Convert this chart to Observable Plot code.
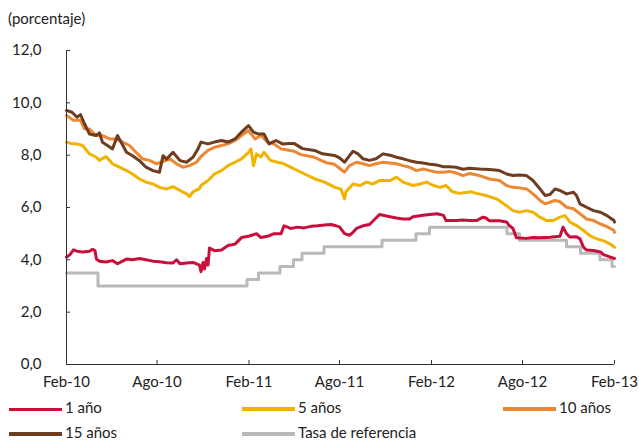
<!DOCTYPE html>
<html><head><meta charset="utf-8">
<script src="https://cdn.jsdelivr.net/npm/d3@7"></script>
<script src="https://cdn.jsdelivr.net/npm/@observablehq/plot@0.6"></script>
<style>
body{margin:0;background:#fff;}
#wrap{position:relative;width:639px;height:440px;font-family:Lato,sans-serif;color:#222;overflow:hidden;}
#chart{position:absolute;left:0;top:0;}
#title{position:absolute;left:8px;top:9px;font-size:15px;line-height:18px;}
.sw{position:absolute;width:53px;}
.lt{position:absolute;font-size:15px;line-height:18px;white-space:nowrap;}
</style></head>
<body><div id="wrap"><div id="chart"></div><div id="title">(porcentaje)</div><div id="legend"></div></div>
<script>
const xTickDates = ["2010-02-01","2010-08-01","2011-02-01","2011-08-01","2012-02-01","2012-08-01","2013-02-01"];
const xTickLabels = ["Feb-10","Ago-10","Feb-11","Ago-11","Feb-12","Ago-12","Feb-13"];
const yTicks = [0,2,4,6,8,10,12];
const seriesNames = ["1 año","5 años","10 años","15 años","Tasa de referencia"];

const unAno = [["2010-02-01",4.10],["2010-02-08",4.20],["2010-02-15",4.38],["2010-02-22",4.33],["2010-03-05",4.30],["2010-03-19",4.33],["2010-03-25",4.40],["2010-03-30",4.35],["2010-04-02",4.02],["2010-04-08",3.95],["2010-04-21",3.92],["2010-05-04",3.97],["2010-05-14",3.85],["2010-05-24",3.95],["2010-06-01",4.03],["2010-06-13",4.00],["2010-06-27",4.05],["2010-07-10",4.00],["2010-07-24",3.95],["2010-08-06",3.93],["2010-08-20",3.89],["2010-09-02",3.88],["2010-09-09",4.00],["2010-09-16",3.85],["2010-09-29",3.88],["2010-10-12",3.90],["2010-10-25",3.80],["2010-10-28",3.55],["2010-11-01",3.90],["2010-11-04",3.65],["2010-11-08",4.05],["2010-11-11",3.80],["2010-11-14",4.45],["2010-11-24",4.35],["2010-12-08",4.38],["2010-12-21",4.55],["2011-01-04",4.60],["2011-01-17",4.85],["2011-01-31",4.90],["2011-02-16",5.00],["2011-02-25",4.85],["2011-03-10",4.90],["2011-03-23",5.00],["2011-04-06",5.00],["2011-04-12",5.30],["2011-04-19",5.25],["2011-04-25",5.20],["2011-05-09",5.25],["2011-05-22",5.22],["2011-06-05",5.28],["2011-06-18",5.30],["2011-07-02",5.33],["2011-07-15",5.35],["2011-07-25",5.30],["2011-08-01",5.26],["2011-08-11",5.00],["2011-08-21",4.94],["2011-08-28",5.05],["2011-09-04",5.20],["2011-09-17",5.30],["2011-09-30",5.35],["2011-10-13",5.60],["2011-10-20",5.73],["2011-11-10",5.65],["2011-11-23",5.60],["2011-12-06",5.56],["2011-12-19",5.56],["2011-12-26",5.65],["2012-01-15",5.70],["2012-01-29",5.73],["2012-02-12",5.76],["2012-02-25",5.70],["2012-03-01",5.50],["2012-03-21",5.50],["2012-04-04",5.52],["2012-04-17",5.50],["2012-05-01",5.50],["2012-05-14",5.63],["2012-05-20",5.60],["2012-05-27",5.49],["2012-06-16",5.49],["2012-06-30",5.45],["2012-07-06",5.30],["2012-07-13",5.20],["2012-07-20",4.84],["2012-08-09",4.82],["2012-08-22",4.85],["2012-09-05",4.84],["2012-09-25",4.86],["2012-10-15",4.90],["2012-10-21",5.25],["2012-10-28",5.00],["2012-11-04",4.87],["2012-11-17",4.88],["2012-11-24",4.80],["2012-12-01",4.48],["2012-12-07",4.38],["2012-12-21",4.36],["2013-01-04",4.30],["2013-01-10",4.20],["2013-01-24",4.10],["2013-02-01",4.05]];

const cincoAnos = [["2010-02-01",8.50],["2010-02-10",8.45],["2010-02-22",8.43],["2010-03-05",8.37],["2010-03-19",8.05],["2010-04-01",7.93],["2010-04-08",7.80],["2010-04-21",7.95],["2010-05-04",7.67],["2010-05-18",7.54],["2010-06-01",7.41],["2010-06-13",7.28],["2010-06-27",7.09],["2010-07-10",6.97],["2010-07-24",6.90],["2010-08-06",6.77],["2010-08-20",6.71],["2010-09-02",6.80],["2010-09-16",6.65],["2010-09-29",6.52],["2010-10-05",6.42],["2010-10-12",6.60],["2010-10-25",6.72],["2010-10-28",6.84],["2010-11-11",7.03],["2010-11-24",7.28],["2010-12-08",7.41],["2010-12-21",7.60],["2011-01-04",7.73],["2011-01-17",7.86],["2011-01-31",8.11],["2011-02-05",8.24],["2011-02-10",7.60],["2011-02-16",8.05],["2011-02-25",7.93],["2011-03-03",8.11],["2011-03-16",7.80],["2011-03-30",7.73],["2011-04-12",7.67],["2011-04-25",7.54],["2011-05-02",7.48],["2011-05-22",7.29],["2011-06-12",7.10],["2011-07-02",6.97],["2011-07-22",6.78],["2011-08-04",6.70],["2011-08-11",6.33],["2011-08-14",6.60],["2011-08-28",6.90],["2011-09-11",6.84],["2011-09-24",6.97],["2011-10-07",6.90],["2011-10-20",7.03],["2011-11-10",7.03],["2011-11-23",7.16],["2011-12-06",6.97],["2011-12-26",6.84],["2012-01-09",6.90],["2012-01-22",6.97],["2012-02-05",6.84],["2012-02-18",6.77],["2012-03-01",6.84],["2012-03-14",6.60],["2012-03-28",6.54],["2012-04-20",6.60],["2012-05-01",6.54],["2012-05-20",6.46],["2012-06-10",6.33],["2012-06-30",6.07],["2012-07-13",5.88],["2012-07-26",5.82],["2012-08-09",5.88],["2012-08-22",5.82],["2012-09-05",5.63],["2012-09-18",5.50],["2012-10-01",5.50],["2012-10-15",5.63],["2012-10-25",5.69],["2012-11-04",5.44],["2012-11-17",5.31],["2012-12-01",5.12],["2012-12-14",4.92],["2012-12-28",4.80],["2013-01-10",4.73],["2013-01-24",4.60],["2013-02-01",4.48]];

const diezAnos = [["2010-02-01",9.52],["2010-02-15",9.33],["2010-03-01",9.33],["2010-03-09",9.01],["2010-03-19",9.00],["2010-04-01",8.75],["2010-04-14",8.75],["2010-04-28",8.62],["2010-05-11",8.62],["2010-05-24",8.50],["2010-06-07",8.37],["2010-06-20",8.11],["2010-07-03",7.86],["2010-07-17",7.80],["2010-07-31",7.67],["2010-08-13",7.75],["2010-08-27",7.86],["2010-09-09",7.67],["2010-09-22",7.54],["2010-10-05",7.60],["2010-10-19",7.73],["2010-10-28",7.95],["2010-11-11",8.18],["2010-11-24",8.30],["2010-12-08",8.37],["2010-12-21",8.43],["2011-01-04",8.56],["2011-01-17",8.75],["2011-01-31",8.94],["2011-02-13",8.62],["2011-02-25",8.75],["2011-03-10",8.50],["2011-03-23",8.43],["2011-04-06",8.24],["2011-04-19",8.20],["2011-05-02",8.15],["2011-05-16",8.02],["2011-06-12",7.92],["2011-06-25",7.80],["2011-07-08",7.70],["2011-07-22",7.65],["2011-08-01",7.50],["2011-08-11",7.35],["2011-08-21",7.60],["2011-09-04",7.73],["2011-09-17",7.67],["2011-09-30",7.60],["2011-10-13",7.67],["2011-10-27",7.73],["2011-11-10",7.70],["2011-11-23",7.67],["2011-12-06",7.60],["2011-12-19",7.54],["2012-01-02",7.41],["2012-01-15",7.47],["2012-01-29",7.41],["2012-02-12",7.35],["2012-02-25",7.35],["2012-03-08",7.38],["2012-03-21",7.32],["2012-04-04",7.22],["2012-04-17",7.30],["2012-05-07",7.22],["2012-05-27",7.09],["2012-06-16",7.03],["2012-06-30",6.84],["2012-07-13",6.77],["2012-07-26",6.75],["2012-08-09",6.71],["2012-08-22",6.52],["2012-09-05",6.27],["2012-09-15",6.14],["2012-09-25",6.20],["2012-10-05",6.27],["2012-10-15",6.22],["2012-10-28",6.01],["2012-11-11",5.95],["2012-11-24",5.76],["2012-12-07",5.56],["2012-12-21",5.50],["2013-01-04",5.37],["2013-01-17",5.27],["2013-01-31",5.12],["2013-02-01",5.05]];

const quinceAnos = [["2010-02-01",9.71],["2010-02-12",9.64],["2010-02-22",9.45],["2010-03-01",9.55],["2010-03-09",9.20],["2010-03-19",8.81],["2010-04-01",8.75],["2010-04-08",8.85],["2010-04-14",8.49],["2010-04-24",8.37],["2010-05-04",8.24],["2010-05-14",8.75],["2010-05-21",8.50],["2010-06-01",8.11],["2010-06-13",7.98],["2010-06-27",7.79],["2010-07-10",7.54],["2010-07-24",7.41],["2010-08-06",7.35],["2010-08-13",7.98],["2010-08-20",7.85],["2010-09-02",8.11],["2010-09-16",7.79],["2010-09-29",7.73],["2010-10-12",7.92],["2010-10-22",8.24],["2010-10-28",8.50],["2010-11-11",8.43],["2010-11-24",8.50],["2010-12-08",8.56],["2010-12-21",8.50],["2011-01-04",8.62],["2011-01-17",8.88],["2011-01-31",9.13],["2011-02-10",8.88],["2011-02-19",8.81],["2011-03-03",8.81],["2011-03-13",8.43],["2011-03-27",8.56],["2011-04-09",8.43],["2011-04-22",8.45],["2011-05-02",8.45],["2011-05-19",8.25],["2011-06-12",8.18],["2011-06-28",8.05],["2011-07-22",7.99],["2011-08-01",7.90],["2011-08-11",7.73],["2011-08-21",7.98],["2011-08-28",8.15],["2011-09-07",8.05],["2011-09-17",7.86],["2011-09-30",7.80],["2011-10-13",7.86],["2011-10-27",8.05],["2011-11-10",8.00],["2011-11-23",7.92],["2011-12-06",7.86],["2011-12-19",7.79],["2012-01-02",7.73],["2012-01-15",7.70],["2012-01-29",7.65],["2012-02-12",7.62],["2012-02-25",7.56],["2012-03-08",7.56],["2012-03-21",7.54],["2012-04-04",7.46],["2012-04-17",7.50],["2012-05-07",7.47],["2012-05-27",7.45],["2012-06-16",7.41],["2012-06-30",7.28],["2012-07-13",7.22],["2012-07-26",7.24],["2012-08-09",7.22],["2012-08-22",7.03],["2012-09-05",6.71],["2012-09-15",6.46],["2012-09-25",6.50],["2012-10-05",6.71],["2012-10-15",6.65],["2012-10-28",6.52],["2012-11-11",6.58],["2012-11-17",6.46],["2012-11-24",6.14],["2012-12-07",6.01],["2012-12-21",5.88],["2013-01-04",5.82],["2013-01-17",5.69],["2013-01-31",5.50],["2013-02-01",5.44]];

const tasaReferencia = [["2010-02-01",3.50],["2010-04-05",3.00],["2011-01-28",3.25],["2011-02-20",3.50],["2011-04-04",3.75],["2011-05-01",4.00],["2011-05-18",4.25],["2011-07-01",4.50],["2011-10-25",4.75],["2012-01-01",5.00],["2012-01-28",5.25],["2012-07-01",5.00],["2012-07-26",4.75],["2012-10-28",4.50],["2012-11-25",4.25],["2013-01-03",4.00],["2013-01-27",3.75],["2013-02-01",3.75]];

const colors = ["#C90E3C","#F0B400","#EC8733","#6E3D20","#B9B9B9"];

const toRows = arr => arr.map(([d, v]) => ({date: new Date(d), value: v}));
const labelMap = new Map(xTickDates.map((d, i) => [+new Date(d), xTickLabels[i]]));
const xDates = xTickDates.map(d => new Date(d));
const lw = 3;

const chart = Plot.plot({
  width: 639, height: 400,
  marginTop: 50, marginBottom: 36, marginLeft: 66, marginRight: 25,
  x: {type: "utc", domain: [xDates[0], xDates[xDates.length - 1]], label: null},
  y: {domain: [0, 12], label: null},
  style: {fontFamily: "Lato, sans-serif", fontSize: "15px", color: "#222", background: "#fff"},
  marks: [
    Plot.axisY(yTicks, {tickSize: 0, tickPadding: 25, fontSize: 15, label: null, tickFormat: d => d.toFixed(1).replace(".", ",")}),
    Plot.axisY(yTicks, {tickSize: -4, text: null, label: null, stroke: "#333"}),
    Plot.axisX(xDates, {tickSize: 0, tickPadding: 12, fontSize: 15, label: null, tickFormat: d => labelMap.get(+d)}),
    Plot.axisX(xDates, {tickSize: -4, text: null, label: null, stroke: "#333"}),
    Plot.line(toRows(tasaReferencia), {x: "date", y: "value", stroke: colors[4], strokeWidth: lw, curve: "step-after"}),
    Plot.line(toRows(unAno), {x: "date", y: "value", stroke: colors[0], strokeWidth: lw}),
    Plot.line(toRows(cincoAnos), {x: "date", y: "value", stroke: colors[1], strokeWidth: lw}),
    Plot.line(toRows(diezAnos), {x: "date", y: "value", stroke: colors[2], strokeWidth: lw}),
    Plot.line(toRows(quinceAnos), {x: "date", y: "value", stroke: colors[3], strokeWidth: lw}),
    Plot.ruleY([0], {stroke: "#333"}),
    Plot.ruleX([xDates[0]], {stroke: "#333"})
  ]
});
document.getElementById("chart").appendChild(chart);

// legend
const legendPos = [[9, 409], [242, 409], [503, 409], [9, 434], [242, 434]];
const leg = document.getElementById("legend");
seriesNames.forEach((name, i) => {
  const [lx, ly] = legendPos[i];
  const h = i === 0 ? 3 : 4;
  const sw = document.createElement("div");
  sw.className = "sw";
  sw.style.left = lx + "px";
  sw.style.top = (ly - h / 2) + "px";
  sw.style.height = h + "px";
  sw.style.background = colors[i];
  leg.appendChild(sw);
  const t = document.createElement("div");
  t.className = "lt";
  t.style.left = (lx + 56) + "px";
  t.style.top = (ly - 11) + "px";
  t.textContent = name;
  leg.appendChild(t);
});
</script>
</body></html>
